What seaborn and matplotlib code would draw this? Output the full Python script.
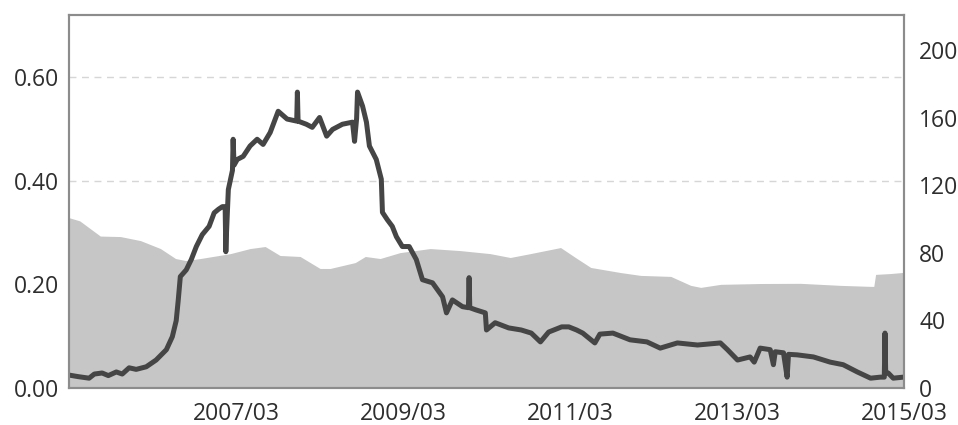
import pandas as pd
import matplotlib
matplotlib.use("Agg")
import matplotlib.pyplot as plt
import matplotlib.dates as mdates
import seaborn as sns

# dark line (left axis)
line_dates = [
    "2005-03-01", "2005-04-10", "2005-05-28", "2005-06-20", "2005-07-24", "2005-08-20",
    "2005-09-24", "2005-10-20", "2005-11-19", "2005-12-20",
    "2006-02-02", "2006-03-17", "2006-05-01", "2006-05-27", "2006-06-13", "2006-06-22",
    "2006-07-01", "2006-07-27", "2006-08-18", "2006-09-09", "2006-10-05", "2006-11-04",
    "2006-11-26", "2006-12-15",
    "2007-01-01", "2007-01-13", "2007-01-16", "2007-01-19", "2007-01-27", "2007-02-14",
    "2007-02-17", "2007-02-21", "2007-03-07", "2007-04-02", "2007-05-02", "2007-06-02",
    "2007-06-28", "2007-07-29", "2007-09-02", "2007-10-11", "2007-11-22", "2007-11-25",
    "2007-11-28",
    "2008-01-03", "2008-01-29", "2008-03-01", "2008-04-01", "2008-04-27", "2008-06-09",
    "2008-07-23", "2008-08-01", "2008-08-10", "2008-08-14", "2008-09-05", "2008-09-22",
    "2008-10-05", "2008-11-04", "2008-11-26", "2008-12-01", "2008-12-22",
    "2009-01-13", "2009-01-31", "2009-02-26", "2009-03-28", "2009-04-28", "2009-05-25",
    "2009-07-08", "2009-08-21", "2009-09-07", "2009-10-03", "2009-11-16", "2009-12-12",
    "2009-12-15", "2009-12-18",
    "2010-01-12", "2010-02-24", "2010-03-01", "2010-04-08", "2010-06-06", "2010-07-31",
    "2010-09-13", "2010-10-23", "2010-11-28",
    "2011-01-24", "2011-02-24", "2011-03-30", "2011-04-26", "2011-06-18", "2011-07-10",
    "2011-09-05", "2011-11-19",
    "2012-02-01", "2012-03-30", "2012-06-13", "2012-09-09", "2012-12-18",
    "2013-01-18", "2013-03-03", "2013-04-27", "2013-05-15", "2013-06-10", "2013-07-24",
    "2013-08-07", "2013-08-15", "2013-09-20", "2013-10-06", "2013-10-12", "2013-11-19",
    "2014-01-29", "2014-04-12", "2014-06-08", "2014-08-09", "2014-10-06", "2014-11-18",
    "2014-12-05", "2014-12-08", "2014-12-11", "2014-12-22",
    "2015-01-13", "2015-02-26",
]
line_values = [
    0.025, 0.022, 0.019, 0.027, 0.029, 0.024,
    0.031, 0.027, 0.039, 0.036,
    0.041, 0.054, 0.074, 0.099, 0.130, 0.170,
    0.215, 0.228, 0.248, 0.273, 0.296, 0.312,
    0.338, 0.345,
    0.350, 0.350, 0.263, 0.300, 0.383, 0.420,
    0.480, 0.430, 0.441, 0.447, 0.467, 0.480,
    0.470, 0.493, 0.534, 0.519, 0.515, 0.571,
    0.515,
    0.509, 0.503, 0.522, 0.486, 0.499, 0.509,
    0.513, 0.476, 0.520, 0.571, 0.544, 0.513,
    0.467, 0.441, 0.403, 0.339, 0.325,
    0.312, 0.292, 0.273, 0.273, 0.248, 0.209,
    0.203, 0.176, 0.145, 0.170, 0.157, 0.155,
    0.213, 0.155,
    0.151, 0.145, 0.112, 0.126, 0.116, 0.112,
    0.106, 0.089, 0.108,
    0.118, 0.118, 0.112, 0.106, 0.087, 0.104,
    0.106, 0.093,
    0.089, 0.077, 0.087, 0.083, 0.087,
    0.074, 0.054, 0.060, 0.050, 0.077, 0.074,
    0.045, 0.070, 0.068, 0.021, 0.065, 0.064,
    0.060, 0.050, 0.045, 0.031, 0.019, 0.021,
    0.021, 0.106, 0.030, 0.029,
    0.019, 0.021,
]

# grey area (right axis)
area_dates = [
    "2005-03-01", "2005-04-17", "2005-07-16", "2005-10-12", "2006-01-08", "2006-04-05",
    "2006-06-10", "2006-07-24", "2006-09-27", "2007-02-05", "2007-05-02", "2007-07-07",
    "2007-09-10", "2007-12-07", "2008-03-03", "2008-04-16", "2008-08-04", "2008-09-17",
    "2008-11-21", "2009-02-16", "2009-06-28", "2009-11-06", "2010-03-17", "2010-06-13",
    "2010-09-09", "2011-01-19", "2011-03-25", "2011-05-31", "2011-10-08", "2012-01-04",
    "2012-05-15", "2012-08-10", "2012-09-23", "2012-12-19", "2013-06-13", "2013-12-03",
    "2014-05-27", "2014-10-06", "2014-10-20", "2014-10-28", "2015-01-01", "2015-03-01",
]
area_values = [
    100.9, 99.0, 90.0, 89.7, 87.3, 82.6,
    76.7, 75.5, 76.7, 79.6, 82.6, 83.8,
    78.5, 77.9, 70.8, 70.8, 74.3, 77.9,
    76.7, 80.2, 82.6, 81.4, 79.6, 77.3,
    79.6, 83.2, 77.3, 71.4, 68.4, 66.7,
    66.1, 60.8, 59.6, 61.4, 61.9, 62.0,
    60.8, 60.2, 60.2, 67.3, 67.8, 68.5,
]

x_ticks = ["2007-03-01", "2009-03-01", "2011-03-01", "2013-03-01", "2015-03-01"]
left_ticks = [0.0, 0.2, 0.4, 0.6]
right_ticks = [0, 40, 80, 120, 160, 200]

line_df = pd.DataFrame({"date": pd.to_datetime(line_dates), "value": line_values})
area_df = pd.DataFrame({"date": pd.to_datetime(area_dates), "value": area_values})

sns.set_style("white")
plt.rcParams["font.family"] = ["Open Sans", "DejaVu Sans"]

fig = plt.figure(figsize=(9.58, 4.25), dpi=100)
ax = fig.add_axes([0.072, 0.087, 0.8716, 0.878])
ax2 = ax.twinx()

# area behind, line in front
ax2.fill_between(area_df["date"], area_df["value"], 0, color="#c6c6c6", linewidth=0)
ax2.set_ylim(0, 221)
ax.set_zorder(ax2.get_zorder() + 1)
ax.patch.set_visible(False)

sns.lineplot(data=line_df, x="date", y="value", ax=ax, color="#454545",
             linewidth=3.6, sort=False, estimator=None)
ax.set_ylim(0, 0.72)
ax.set_xlim(pd.Timestamp("2005-03-01"), pd.Timestamp("2015-03-01"))

ax.set_yticks(left_ticks)
ax.yaxis.set_major_formatter(plt.FormatStrFormatter("%.2f"))
ax2.set_yticks(right_ticks)
ax.set_xticks(pd.to_datetime(x_ticks))
ax.xaxis.set_major_formatter(mdates.DateFormatter("%Y/%m"))

ax.grid(axis="y", color="#d6d6d6", linestyle=(0, (5, 4)), linewidth=1)
for gl, t in zip(ax.get_ygridlines(), left_ticks):
    if t < 0.3:
        gl.set_visible(False)

ax.set_xlabel("")
ax.set_ylabel("")
ax.tick_params(axis="x", direction="in", length=4, color="#777777", pad=10,
               labelsize=16.5, labelcolor="#2e2e2e")
ax.tick_params(axis="y", length=0, pad=7, labelsize=16.5, labelcolor="#2e2e2e")
ax2.tick_params(axis="y", length=0, pad=11, labelsize=16.5, labelcolor="#2e2e2e")

for a in (ax, ax2):
    for s in a.spines.values():
        s.set_color("#8c8c8c")
        s.set_linewidth(1.5)

fig.savefig("out.png", dpi=100)
